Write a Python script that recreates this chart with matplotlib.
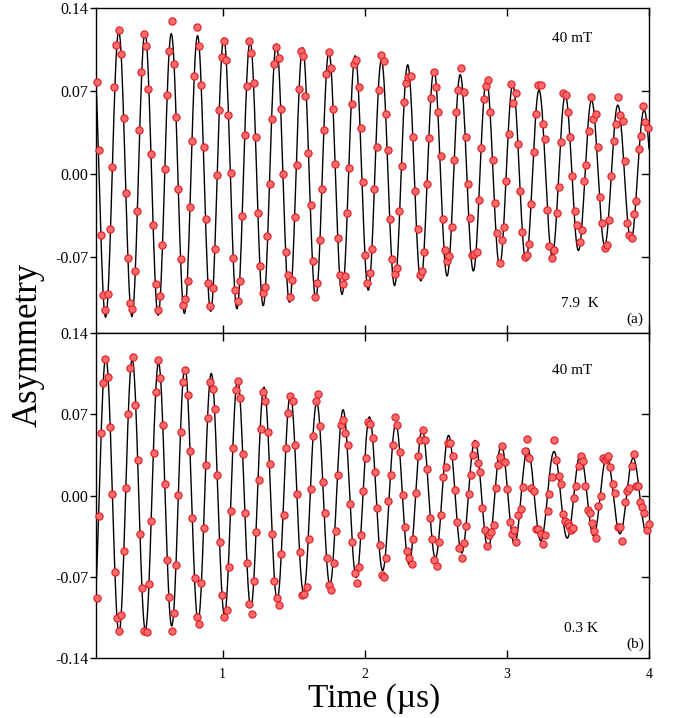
import numpy as np
import matplotlib
matplotlib.use("Agg")
import matplotlib.pyplot as plt

plt.rcParams['font.family'] = ['Liberation Serif', 'DejaVu Serif']

# ---------------- data: panel (a), 7.9 K ----------------
time_a = [
    0.114, 0.128, 0.142, 0.156, 0.175, 0.191, 0.207, 0.222, 0.238, 0.252,
    0.273, 0.285, 0.303, 0.320, 0.336, 0.350, 0.364, 0.383, 0.400, 0.414,
    0.428, 0.449, 0.463, 0.477, 0.493, 0.512, 0.528, 0.543, 0.559, 0.575,
    0.592, 0.606, 0.622, 0.641, 0.655, 0.672, 0.688, 0.704, 0.718, 0.737,
    0.754, 0.768, 0.784, 0.800, 0.817, 0.831, 0.847, 0.866, 0.883, 0.897,
    0.913, 0.929, 0.946, 0.962, 0.976, 0.993, 1.009, 1.026, 1.040, 1.056,
    1.072, 1.089, 1.105, 1.122, 1.138, 1.154, 1.169, 1.185, 1.201, 1.218,
    1.232, 1.248, 1.265, 1.281, 1.297, 1.314, 1.330, 1.347, 1.361, 1.377,
    1.396, 1.410, 1.426, 1.443, 1.459, 1.473, 1.490, 1.506, 1.523, 1.537,
    1.550, 1.569, 1.583, 1.602, 1.619, 1.635, 1.651, 1.666, 1.682, 1.696,
    1.712, 1.729, 1.748, 1.762, 1.778, 1.794, 1.813, 1.827, 1.844, 1.860,
    1.876, 1.891, 1.907, 1.923, 1.940, 1.956, 1.973, 1.989, 2.005, 2.019,
    2.034, 2.050, 2.066, 2.083, 2.099, 2.116, 2.132, 2.148, 2.163, 2.179,
    2.195, 2.212, 2.228, 2.242, 2.259, 2.277, 2.291, 2.305, 2.322, 2.336,
    2.352, 2.373, 2.387, 2.404, 2.420, 2.437, 2.451, 2.467, 2.486, 2.500,
    2.516, 2.533, 2.549, 2.566, 2.580, 2.596, 2.613, 2.629, 2.645, 2.659,
    2.676, 2.695, 2.709, 2.725, 2.741, 2.755, 2.772, 2.788, 2.805, 2.821,
    2.838, 2.852, 2.868, 2.884, 2.901, 2.917, 2.934, 2.950, 2.966, 2.981,
    2.997, 3.013, 3.030, 3.046, 3.063, 3.079, 3.095, 3.109, 3.126, 3.142,
    3.154, 3.168, 3.189, 3.206, 3.220, 3.238, 3.252, 3.269, 3.285, 3.299,
    3.316, 3.332, 3.351, 3.367, 3.384, 3.398, 3.414, 3.431, 3.447, 3.461,
    3.477, 3.496, 3.513, 3.529, 3.546, 3.560, 3.576, 3.592, 3.604, 3.625,
    3.639, 3.656, 3.672, 3.688, 3.705, 3.719, 3.735, 3.752, 3.768, 3.782,
    3.799, 3.815, 3.831, 3.845, 3.862, 3.878, 3.895, 3.911, 3.927, 3.941,
    3.958, 3.972, 3.991,
]
asym_a = [
    0.078, 0.020, -0.051, -0.102, -0.115, -0.101, -0.046, 0.006, 0.073, 0.109,
    0.1215, 0.101, 0.047, -0.016, -0.0705, -0.109, -0.114, -0.082, -0.031, 0.037,
    0.086, 0.118, 0.108, 0.072, 0.017, -0.043, -0.093, -0.115, -0.103, -0.060,
    0.004, 0.067, 0.104, 0.129, 0.093, 0.048, -0.013, -0.072, -0.110, -0.105,
    -0.090, -0.028, 0.028, 0.083, 0.124, 0.108, 0.075, 0.023, -0.0375, -0.092,
    -0.111, -0.096, -0.063, -0.001, 0.054, 0.099, 0.112, 0.096, 0.050, 0.001,
    -0.0705, -0.098, -0.107, -0.090, -0.0355, 0.033, 0.074, 0.112, 0.102, 0.077,
    0.031, -0.033, -0.0775, -0.100, -0.095, -0.052, -0.008, 0.0465, 0.0925, 0.107,
    0.098, 0.055, 0.000, -0.066, -0.085, -0.104, -0.089, -0.036, 0.008, 0.072,
    0.104, 0.0995, 0.066, 0.018, -0.026, -0.073, -0.104, -0.092, -0.056, -0.013,
    0.0375, 0.084, 0.103, 0.089, 0.055, 0.0085, -0.054, -0.085, -0.0925, -0.086,
    -0.033, 0.005, 0.059, 0.093, 0.0965, 0.073, 0.0385, -0.0065, -0.068, -0.092,
    -0.083, -0.063, -0.0127, 0.0225, 0.071, 0.1005, 0.095, 0.051, 0.020, -0.038,
    -0.072, -0.084, -0.079, -0.0315, 0.0065, 0.061, 0.077, 0.082, 0.083, 0.0315,
    -0.014, -0.046, -0.085, -0.082, -0.066, -0.008, 0.030, 0.064, 0.086, 0.073,
    0.052, 0.0155, -0.038, -0.064, -0.073, -0.0695, -0.0445, 0.0115, 0.052, 0.071,
    0.089, 0.069, 0.031, -0.008, -0.037, -0.068, -0.067, -0.0655, -0.022, 0.022,
    0.063, 0.074, 0.079, 0.052, 0.0115, -0.0245, -0.050, -0.075, -0.056, -0.045,
    -0.006, 0.034, 0.076, 0.060, 0.068, 0.025, -0.0145, -0.049, -0.070, -0.068,
    -0.059, -0.025, 0.019, 0.051, 0.0755, 0.075, 0.042, 0.0295, -0.0305, -0.0605,
    -0.071, -0.064, -0.033, -0.0107, 0.027, 0.0685, 0.067, 0.052, 0.0315, -0.0014,
    -0.0315, -0.043, -0.0575, -0.047, -0.006, 0.008, 0.0365, 0.065, 0.046, 0.051,
    0.023, -0.0195, -0.041, -0.062, -0.0595, -0.0385, -0.0017, 0.028, 0.042, 0.065,
    0.050, 0.045, 0.011, -0.041, -0.051, -0.054, -0.034, -0.023, 0.021, 0.032,
    0.0575, 0.0435, 0.0385,
]

# ---------------- data: panel (b), 0.3 K ----------------
time_b = [
    0.114, 0.130, 0.144, 0.158, 0.175, 0.193, 0.207, 0.224, 0.240, 0.257,
    0.273, 0.287, 0.303, 0.322, 0.336, 0.350, 0.367, 0.386, 0.402, 0.416,
    0.432, 0.449, 0.465, 0.482, 0.496, 0.514, 0.531, 0.545, 0.561, 0.580,
    0.596, 0.611, 0.625, 0.643, 0.660, 0.674, 0.688, 0.704, 0.721, 0.737,
    0.754, 0.770, 0.787, 0.803, 0.817, 0.833, 0.850, 0.866, 0.883, 0.899,
    0.913, 0.932, 0.946, 0.962, 0.979, 0.995, 1.012, 1.028, 1.042, 1.058,
    1.075, 1.091, 1.105, 1.124, 1.140, 1.157, 1.173, 1.187, 1.204, 1.220,
    1.237, 1.253, 1.269, 1.283, 1.300, 1.316, 1.333, 1.349, 1.363, 1.380,
    1.396, 1.412, 1.429, 1.445, 1.462, 1.476, 1.492, 1.508, 1.525, 1.544,
    1.560, 1.574, 1.591, 1.607, 1.623, 1.637, 1.654, 1.670, 1.687, 1.703,
    1.717, 1.733, 1.750, 1.766, 1.783, 1.797, 1.813, 1.830, 1.846, 1.863,
    1.879, 1.895, 1.912, 1.928, 1.944, 1.961, 1.975, 1.991, 2.008, 2.024,
    2.038, 2.055, 2.073, 2.088, 2.104, 2.120, 2.137, 2.153, 2.167, 2.184,
    2.200, 2.216, 2.230, 2.249, 2.266, 2.282, 2.296, 2.310, 2.329, 2.341,
    2.358, 2.376, 2.392, 2.409, 2.425, 2.439, 2.458, 2.472, 2.488, 2.505,
    2.521, 2.538, 2.554, 2.570, 2.587, 2.603, 2.620, 2.634, 2.650, 2.666,
    2.683, 2.699, 2.713, 2.730, 2.746, 2.763, 2.779, 2.795, 2.812, 2.828,
    2.845, 2.859, 2.873, 2.889, 2.906, 2.922, 2.938, 2.952, 2.969, 2.988,
    3.004, 3.020, 3.037, 3.051, 3.067, 3.081, 3.098, 3.114, 3.131, 3.145,
    3.158, 3.170, 3.188, 3.204, 3.221, 3.239, 3.251, 3.267, 3.286, 3.298,
    3.314, 3.331, 3.345, 3.364, 3.380, 3.392, 3.408, 3.427, 3.439, 3.450,
    3.462, 3.471, 3.488, 3.504, 3.521, 3.537, 3.553, 3.568, 3.584, 3.598,
    3.614, 3.628, 3.643, 3.659, 3.673, 3.687, 3.701, 3.715, 3.729, 3.746,
    3.764, 3.779, 3.795, 3.811, 3.828, 3.844, 3.861, 3.877, 3.893, 3.907,
    3.924, 3.938, 3.954, 3.968, 3.985, 3.998,
]
asym_b = [
    -0.088, -0.0175, 0.054, 0.097, 0.118, 0.102, 0.059, 0.001, -0.066, -0.1055,
    -0.117, -0.103, -0.048, 0.0066, 0.070, 0.110, 0.119, 0.078, 0.031, -0.033,
    -0.080, -0.1167, -0.1176, -0.076, -0.022, 0.0365, 0.089, 0.1167, 0.101, 0.061,
    0.0098, -0.0555, -0.0877, -0.117, -0.101, -0.0595, 0.0003, 0.055, 0.0975, 0.108,
    0.087, 0.0385, -0.019, -0.0713, -0.105, -0.111, -0.0756, -0.028, 0.0265, 0.0667,
    0.098, 0.0917, 0.0748, 0.0175, -0.040, -0.0857, -0.105, -0.0986, -0.062, -0.0132,
    0.0405, 0.091, 0.099, 0.084, 0.036, -0.0147, -0.058, -0.0937, -0.102, -0.074,
    -0.0316, 0.0132, 0.057, 0.0894, 0.0816, 0.0543, 0.0273, -0.033, -0.0739, -0.088,
    -0.0946, -0.0506, -0.0164, 0.0408, 0.0707, 0.0857, 0.081, 0.0434, 0.0017, -0.049,
    -0.0857, -0.085, -0.0788, -0.0377, 0.0058, 0.0512, 0.081, 0.0877, 0.0595, 0.0118,
    -0.015, -0.0538, -0.077, -0.0817, -0.058, -0.0308, 0.0173, 0.0604, 0.065, 0.0535,
    0.0434, -0.0069, -0.0397, -0.0664, -0.0753, -0.0612, -0.0336, 0.004, 0.0325, 0.0635,
    0.062, 0.0497, 0.0204, -0.0104, -0.0425, -0.0684, -0.0704, -0.054, -0.0049, 0.0173,
    0.0437, 0.0679, 0.0607, 0.0374, 0.0003, -0.0273, -0.0477, -0.0538, -0.0592, -0.0374,
    0.002, 0.0339, 0.048, 0.0564, 0.0477, 0.0227, -0.0196, -0.0377, -0.0555, -0.0604,
    -0.0403, -0.017, 0.0161, 0.0242, 0.0451, 0.0451, 0.0342, 0.0046, -0.0224, -0.0451,
    -0.0535, -0.0411, -0.0259, 0.0012, 0.0173, 0.0351, 0.0443, 0.0276, 0.0201, -0.0106,
    -0.0296, -0.0434, -0.0336, -0.0313, -0.025, 0.0066, 0.0262, 0.0328, 0.0428, 0.0285,
    0.0055, -0.0224, -0.0331, -0.0296, -0.0403, -0.017, -0.0118, 0.0072, 0.038, 0.0486,
    0.0322, 0.0063, 0.0037, -0.029, -0.029, -0.0334, -0.0417, -0.0339, -0.0132, 0.0017,
    0.0161, 0.0474, 0.0308, 0.017, 0.0098, -0.0158, -0.0221, -0.0233, -0.0267, -0.0296,
    -0.0279, -0.0023, 0.0086, 0.0256, 0.0342, 0.0299, 0.0078, -0.0124, -0.0152, -0.0239,
    -0.031, -0.0368, -0.0089, 0.000, 0.0322, 0.0308, 0.0322, 0.0342, 0.0244, 0.010,
    0.002, -0.027, -0.027, -0.0388, -0.006, 0.0043, 0.0063, 0.0256, 0.0357, 0.0078,
    0.0086, -0.0058, -0.0095, -0.0152, -0.0296, -0.0247,
]

# ---------------- fit parameters ----------------
# (a) normal state: single Gaussian-damped precession
fit_a = dict(amp=0.121, sigma=0.32, freq=5.41, phase=-0.455)
# (b) vortex state: fast-relaxing sample signal + slowly relaxing background
fit_b = dict(amp1=0.088, sigma1=0.65, amp2=0.032, sigma2=0.12, freq=5.39, phase=0.04)

y_ticks_a = [-0.07, 0.00, 0.07, 0.14]
y_ticks_b = [-0.14, -0.07, 0.00, 0.07, 0.14]
x_ticks = [1, 2, 3, 4]


def model_a(t, p):
    return p['amp'] * np.exp(-0.5 * (p['sigma'] * t) ** 2) * np.cos(2 * np.pi * (p['freq'] * t + p['phase']))


def model_b(t, p):
    env = (p['amp1'] * np.exp(-0.5 * (p['sigma1'] * t) ** 2)
           + p['amp2'] * np.exp(-0.5 * (p['sigma2'] * t) ** 2))
    return env * np.cos(2 * np.pi * (p['freq'] * t + p['phase']))


W, H = 676, 718
fig = plt.figure(figsize=(W / 100, H / 100), dpi=100)
left, right = 96, 649
ax_a = fig.add_axes([left / W, 1 - 333 / H, (right - left) / W, (333 - 8) / H])
ax_b = fig.add_axes([left / W, 1 - 658 / H, (right - left) / W, (658 - 333) / H])

xlim = (0.109, 4.0)
t_fit = np.linspace(xlim[0], xlim[1], 800)

marker_kw = dict(linestyle='none', marker='o', markersize=5.2,
                 markerfacecolor='#ff6b6b', markeredgecolor='#dc1c26',
                 markeredgewidth=0.8, clip_on=False, zorder=3)

for ax, t, a, curve, ylim, yt in [
    (ax_a, time_a, asym_a, model_a(t_fit, fit_a), (-0.134, 0.14), y_ticks_a),
    (ax_b, time_b, asym_b, model_b(t_fit, fit_b), (-0.14, 0.14), y_ticks_b),
]:
    ax.plot(t_fit, curve, color='black', linewidth=1.0, zorder=2)
    ax.plot(t, a, **marker_kw)
    ax.set_xlim(*xlim)
    ax.set_ylim(*ylim)
    ax.set_yticks(yt)
    ax.set_yticklabels([f"{v:.2f}" for v in yt])
    ax.set_xticks(x_ticks)
    for s in ax.spines.values():
        s.set_linewidth(1.0)
    ax.tick_params(axis='y', which='major', left=True, right=False, direction='out',
                   length=4, width=1.0, labelsize=11.5, pad=1.5)
    ax.tick_params(axis='x', which='major', top=True, bottom=True, direction='in',
                   length=6, width=1.0, labelsize=10, pad=7)
    # inward ticks on the right-hand spine
    for v in yt:
        if abs(v) < 0.1:
            ax.plot([1.0, 0.988], [v, v], transform=ax.get_yaxis_transform(),
                    color='black', linewidth=1.0, clip_on=False, zorder=4)

ax_a.tick_params(axis='x', labelbottom=False)

ann = dict(fontsize=11, ha='center', va='center')
ax_a.text(572 / W, 1 - 38 / H, '40 mT', transform=fig.transFigure, **ann)
ax_a.text(580 / W, 1 - 303 / H, '7.9  K', transform=fig.transFigure, **ann)
ax_a.text(635 / W, 1 - 319 / H, '(a)', transform=fig.transFigure, **ann)
ax_b.text(572 / W, 1 - 370 / H, '40 mT', transform=fig.transFigure, **ann)
ax_b.text(581 / W, 1 - 628 / H, '0.3 K', transform=fig.transFigure, **ann)
ax_b.text(635 / W, 1 - 644 / H, '(b)', transform=fig.transFigure, **ann)

fig.text(374 / W, 1 - 706.5 / H, 'Time (\u00b5s)', fontsize=24, ha='center', va='baseline')
fig.text(28 / W, 1 - 345 / H, 'Asymmetry', fontsize=25, ha='center', va='center',
         rotation=90)

fig.savefig('out.png', dpi=100)
